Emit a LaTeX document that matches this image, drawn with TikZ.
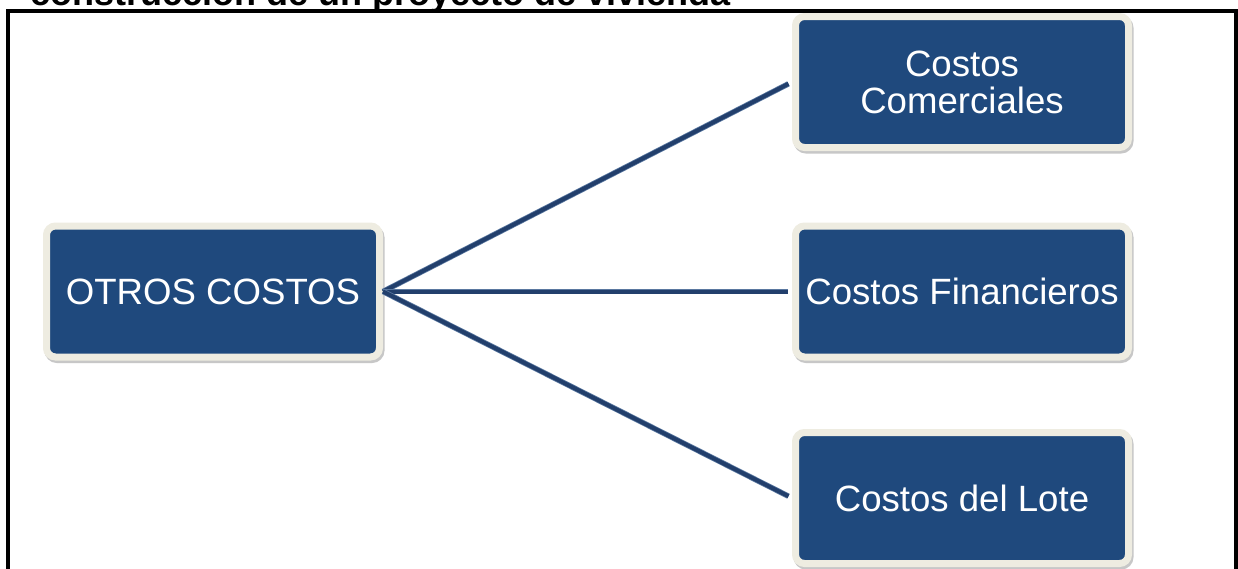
\documentclass[tikz,border=0pt]{standalone}
\usepackage{fontspec}
\setmainfont{Liberation Sans}
\definecolor{boxblue}{HTML}{1F497D}
\definecolor{boxcream}{HTML}{EEECE1}
\definecolor{linkblue}{HTML}{223F6C}
\definecolor{linkedge}{HTML}{5A78A0}
\tikzset{
  costbox/.style={
    rectangle, rounded corners=9pt,
    fill=boxblue, draw=boxcream, line width=7pt,
    minimum width=333pt, minimum height=131pt,
    inner sep=0pt, text=white, align=center,
    font=\fontsize{36.6}{37}\selectfont,
    preaction={draw=black!22, line width=7pt, fill=black!22,
               transform canvas={xshift=1.5pt, yshift=-2.5pt}}
  },
  link/.style={draw=linkblue, line width=4pt, shorten >=4pt,
               preaction={draw=linkedge, line width=5.5pt}}
}
\begin{document}
\begin{tikzpicture}[x=1pt, y=-1pt]
  \useasboundingbox (0,0) rectangle (1238,568);
  \clip (0,0) rectangle (1238,568);
  \fill[white] (0,0) rectangle (1238,568);

  % heading, partly above the page
  \node[anchor=base west, inner sep=0pt, font=\fontsize{36}{40}\selectfont\bfseries]
    (title) at (30,5) {construcción de un proyecto de vivienda};

  % frame
  \draw[line width=4pt] (8,580) -- (8,11) -- (1236,11) -- (1236,580);

  % boxes
  \node[costbox] (otros) at (213,291.5) {OTROS COSTOS};
  \node[costbox] (com)   at (962,82)    {Costos\\Comerciales};
  \node[costbox] (fin)   at (962,291.5) {Costos Financieros};
  \node[costbox] (lote)  at (962,498)   {Costos del Lote};

  % connectors
  \draw[link] (otros.east) -- (com.west);
  \draw[link] (otros.east) -- (fin.west);
  \draw[link] (otros.east) -- (lote.west);
\end{tikzpicture}
\end{document}
